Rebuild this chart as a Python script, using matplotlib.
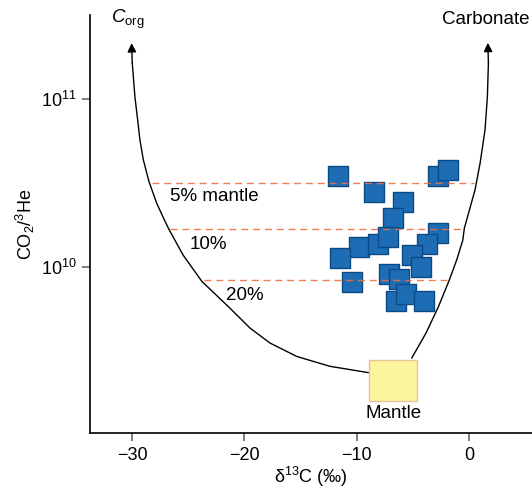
import numpy as np
import matplotlib.pyplot as plt
from matplotlib.patches import Rectangle

plt.rcParams['font.family'] = ['Liberation Sans', 'DejaVu Sans']
plt.rcParams['mathtext.fontset'] = 'custom'
plt.rcParams['mathtext.rm'] = 'Liberation Sans'
plt.rcParams['mathtext.it'] = 'Liberation Sans:italic'

# measured samples
d13c = [-11.67, -8.42, -5.84, -6.73, -2.74, -1.84, -2.74, -9.84, -8.15, -7.26,
        -11.53, -3.73, -5.12, -4.32, -7.11, -6.25, -10.4, -6.49, -5.6, -4.0]
co2_he = [3.48e10, 2.79e10, 2.44e10, 1.96e10, 3.48e10, 3.81e10, 1.60e10, 1.32e10, 1.37e10, 1.51e10,
          1.13e10, 1.37e10, 1.18e10, 1.00e10, 9.0e9, 8.4e9, 8.1e9, 6.2e9, 6.9e9, 6.2e9]

# mixing curves, mantle -> end member
corg_x = [-8.97, -12.38, -15.34, -17.72, -19.50, -21.28, -23.78, -25.44, -26.69, -27.13,
          -27.81, -28.50, -29.00, -29.30, -29.50, -29.74, -29.98, -30.04]
corg_y = [2.33e9, 2.54e9, 2.91e9, 3.50e9, 4.30e9, 5.65e9, 8.17e9, 1.17e10, 1.66e10, 1.91e10,
          2.40e10, 3.24e10, 4.37e10, 5.74e10, 7.55e10, 1.03e11, 1.65e11, 2.17e11]
carb_x = [-5.10, -3.83, -2.73, -1.75, -1.10, -0.56, -0.42, 0.53, 0.98, 1.42, 1.63, 1.72, 1.67]
carb_y = [2.85e9, 4.02e9, 5.77e9, 8.36e9, 1.10e10, 1.44e10, 1.70e10, 2.88e10, 4.16e10,
          6.58e10, 1.04e11, 1.65e11, 2.18e11]

# mantle fraction lines
mix_labels = ['5% mantle', '10%', '20%']
mix_ratio = [3.16e10, 1.68e10, 8.3e9]
mix_start = [-28.2, -26.6, -23.6]
mix_end = [0.4, -0.5, -1.75]
label_x = [-26.6, -24.9, -21.6]
label_y = [2.64e10, 1.35e10, 6.7e9]

mantle_d13c = (-8.9, -4.6)
mantle_ratio = (1.58e9, 2.79e9)

fig = plt.figure(figsize=(5.32, 4.88), dpi=100)
ax = fig.add_axes([0.169, 0.112, 0.831, 0.857])

for x, y in [(corg_x, corg_y), (carb_x, carb_y)]:
    ax.plot(x[:-1], y[:-1], color='black', lw=1.0, zorder=2)
    ax.annotate('', xy=(x[-1], y[-1]), xytext=(x[-2], y[-2]),
                arrowprops=dict(arrowstyle='-|>', color='black', lw=1.0,
                                mutation_scale=13, shrinkA=0, shrinkB=0))

ax.add_patch(Rectangle((mantle_d13c[0], mantle_ratio[0]),
                       mantle_d13c[1] - mantle_d13c[0], mantle_ratio[1] - mantle_ratio[0],
                       facecolor='#fdf59c', edgecolor='#e6c49a', lw=1.0, zorder=3))
ax.text(np.mean(mantle_d13c), 1.33e9, 'Mantle', ha='center', va='center', fontsize=13.5)

ax.scatter(d13c, co2_he, marker='s', s=14**2, facecolor='#1e6db4', edgecolor='#0c4a86',
           linewidths=1.0, zorder=4)

for r, x0, x1 in zip(mix_ratio, mix_start, mix_end):
    ax.plot([x0, x1], [r, r], color='#f07040', lw=1.0, ls=(0, (5, 3.5)), alpha=0.9, zorder=5)
for lab, x, y in zip(mix_labels, label_x, label_y):
    ax.text(x, y, lab, ha='left', va='center', fontsize=13.5)

ax.text(-30.4, 3.0e11, '$C_{\\mathrm{org}}$', ha='center', va='center', fontsize=13.5)
ax.text(1.5, 3.0e11, 'Carbonate', ha='center', va='center', fontsize=13.5)

ax.set_yscale('log')
ax.set_xlim(-33.75, 5.6)
ax.set_ylim(1.01e9, 3.19e11)
ax.set_xticks([-30, -20, -10, 0])
ax.set_yticks([1e10, 1e11])
ax.set_yticklabels(['10$^{10}$', '10$^{11}$'])
ax.yaxis.set_minor_locator(plt.NullLocator())
ax.tick_params(labelsize=13, length=6, width=1.2, color='#666666')
ax.set_xlabel('δ$^{13}$C (‰)', fontsize=13, labelpad=1)
ax.set_ylabel('CO$_2$/$^3$He', fontsize=13, labelpad=3)
for s in ['top', 'right']:
    ax.spines[s].set_visible(False)
for s in ['left', 'bottom']:
    ax.spines[s].set_linewidth(1.2)

fig.savefig('out.png', dpi=100)
